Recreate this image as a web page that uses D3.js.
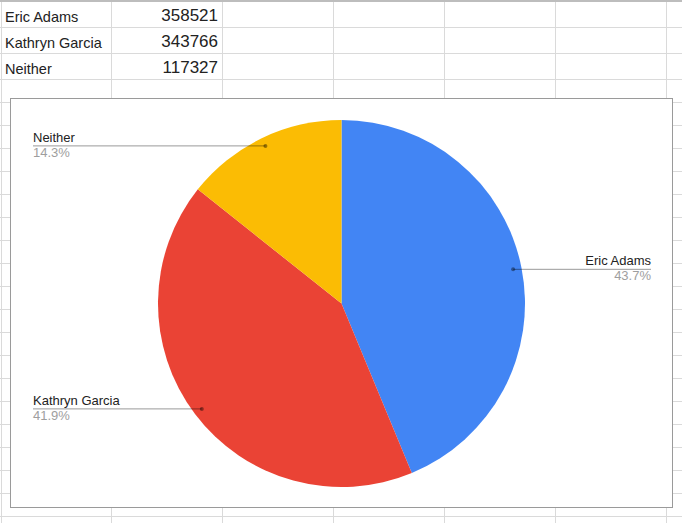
<!DOCTYPE html>
<html>
<head>
<meta charset="utf-8">
<script src="https://cdn.jsdelivr.net/npm/d3@7"></script>
<style>
  body { margin: 0; background: #fff; }
  svg { display: block; font-family: "Liberation Sans", Arial, sans-serif; }
</style>
</head>
<body>
<div id="chart"></div>
<script>
// Data read from the sheet
const names = ["Eric Adams", "Kathryn Garcia", "Neither"];
const votes = [358521, 343766, 117327];
const colors = ["#4285f4", "#ea4335", "#fbbc04"];

const W = 682, H = 523;

const svg = d3.select("#chart")
    .append("svg")
    .attr("width", W)
    .attr("height", H);

// Spreadsheet grid behind the chart
const colLines = d3.range(1, 7).map(i => i * 111);
const rowLines = [27, 53, 79].concat(d3.range(102, H, 23));

const grid = svg.append("g").attr("stroke", "#dadada").attr("stroke-width", 1);
colLines.forEach(x => {
    grid.append("line").attr("x1", x + 0.5).attr("x2", x + 0.5).attr("y1", 0).attr("y2", H);
});
rowLines.forEach(y => {
    grid.append("line").attr("x1", 0).attr("x2", W).attr("y1", y + 0.5).attr("y2", y + 0.5);
});
grid.append("line").attr("x1", 1.5).attr("x2", 1.5).attr("y1", 0).attr("y2", H);
svg.append("line")
    .attr("x1", 0).attr("x2", W).attr("y1", 1).attr("y2", 1)
    .attr("stroke", "#bdbdbd").attr("stroke-width", 2);

// Cells with the values
const row = d3.scaleBand().domain(names).range([1, 79]);

const cells = svg.append("g").attr("fill", "#222");
cells.selectAll("text.name")
    .data(names)
    .enter()
    .append("text")
    .attr("class", "name")
    .attr("x", 5)
    .attr("y", d => row(d) + 21)
    .style("font-size", "14.5px")
    .text(d => d);

cells.selectAll("text.val")
    .data(votes)
    .enter()
    .append("text")
    .attr("class", "val")
    .attr("x", 218)
    .attr("y", (d, i) => row(names[i]) + 19.7)
    .attr("text-anchor", "end")
    .style("font-size", "17px")
    .text(d => d);

// Chart box
const box = { x: 10.5, y: 98.5, w: 662, h: 409 };
svg.append("rect")
    .attr("x", box.x).attr("y", box.y)
    .attr("width", box.w).attr("height", box.h)
    .attr("fill", "#fff")
    .attr("stroke", "#9a9a9a");

// Pie
const cx = 341.5, cy = 303.5, radius = 183.5;
const total = d3.sum(votes);
const data = names.map((n, i) => ({ name: n, value: votes[i], color: colors[i] }));

const pie = d3.pie().sort(null).value(d => d.value);
const arc = d3.arc().innerRadius(0).outerRadius(radius);
const dotArc = d3.arc().innerRadius(175).outerRadius(175);

const g = svg.append("g").attr("transform", `translate(${cx},${cy})`);
const arcs = pie(data);

g.selectAll("path")
    .data(arcs)
    .enter()
    .append("path")
    .attr("d", arc)
    .attr("fill", d => d.data.color);

// Labels with leader lines
const leftX = 33 - cx, rightX = 651 - cx;
const fmt = d3.format(".1%");

arcs.forEach(d => {
    const [px, py] = dotArc.centroid(d);
    const onRight = px > 0;
    const tx = onRight ? rightX : leftX;

    g.append("line")
        .attr("x1", tx).attr("x2", px)
        .attr("y1", py).attr("y2", py)
        .attr("stroke", "#000")
        .attr("stroke-opacity", 0.4);

    g.append("circle")
        .attr("cx", px).attr("cy", py)
        .attr("r", 2)
        .attr("fill", "#000")
        .attr("fill-opacity", 0.4);

    g.append("text")
        .attr("x", tx).attr("y", py - 4)
        .attr("text-anchor", onRight ? "end" : "start")
        .style("font-size", "13px")
        .style("fill", "#222")
        .text(d.data.name);

    g.append("text")
        .attr("x", tx).attr("y", py + 11)
        .attr("text-anchor", onRight ? "end" : "start")
        .style("font-size", "13px")
        .style("fill", "#9e9e9e")
        .text(fmt(d.data.value / total));
});
</script>
</body>
</html>
